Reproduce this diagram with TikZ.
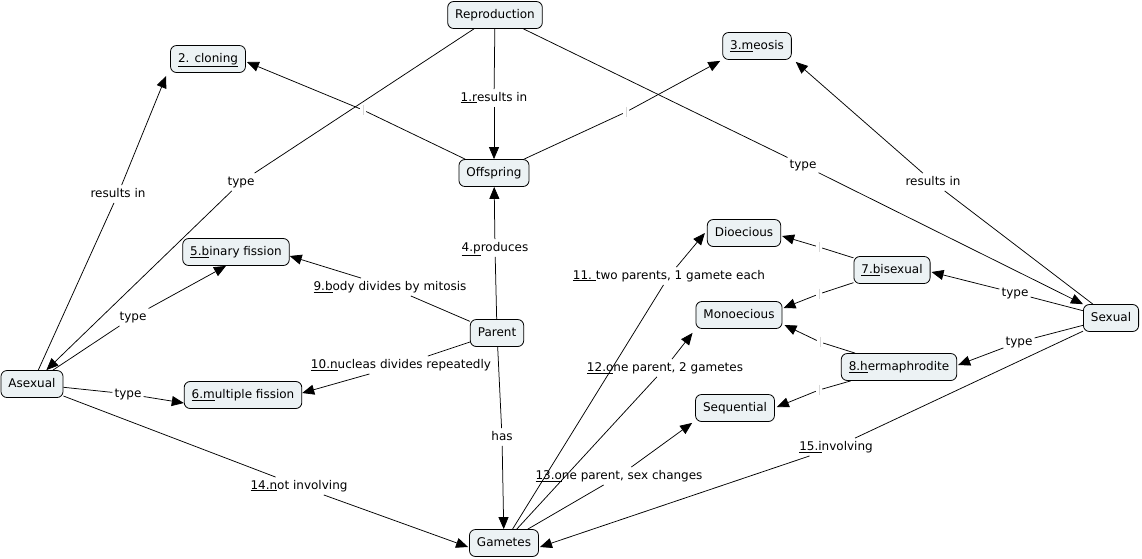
\documentclass[tikz,border=0pt]{standalone}
\usepackage{fontspec}
\setmainfont{DejaVu Sans}
\usetikzlibrary{arrows.meta,calc}
\definecolor{cfill}{RGB}{236,242,244}
\definecolor{tick}{RGB}{215,215,215}
\newcommand{\ulx}[1]{\underline{#1}}
\begin{document}
\begin{tikzpicture}[x=1pt,y=-1pt,
  font=\fontsize{12}{14}\selectfont,
  concept/.style={draw=black,line width=0.8pt,fill=cfill,rounded corners=6pt,
    inner xsep=7.5pt,inner ysep=0pt,minimum height=27pt,text height=9pt,text depth=2.5pt},
  lab/.style={inner xsep=2pt,inner ysep=3pt,text height=9pt,text depth=2.5pt},
  elab/.style={inner sep=0pt,minimum width=6pt,minimum height=10pt},
  conn/.style={draw=black,line width=0.75pt},
  arr/.style={conn,-{Triangle[length=12pt,width=10pt]}}]
\useasboundingbox (0,0) rectangle (1142,558);
% concepts
\node[concept] (rep) at (495,15) {Reproduction};
\node[concept] (clo) at (208,59) {\ulx{2. cloning}};
\node[concept] (meo) at (757,46) {\ulx{3.m}eosis};
\node[concept] (off) at (494,173) {Offspring};
\node[concept] (dio) at (744,233) {Dioecious};
\node[concept] (bin) at (236,252) {\ulx{5.b}inary fission};
\node[concept] (bis) at (892,270) {\ulx{7.b}isexual};
\node[concept] (mon) at (739,315) {Monoecious};
\node[concept] (sex) at (1111,318) {Sexual};
\node[concept] (par) at (497,333) {Parent};
\node[concept] (her) at (899,367) {\ulx{8.h}ermaphrodite};
\node[concept] (ase) at (32,384) {Asexual};
\node[concept] (mul) at (243,395) {\ulx{6.m}ultiple fission};
\node[concept] (seq) at (735,408) {Sequential};
\node[concept] (gam) at (504,543) {Gametes};
% linking phrases
\node[lab] (l1) at (494,98) {\ulx{1.r}esults in};
\node[lab] (lt1) at (241,182) {type};
\node[lab] (lt2) at (803,165) {type};
\node[lab] (lr1) at (118,194) {results in};
\node[lab] (lr2) at (933,182) {results in};
\node[lab] (l4) at (495,248) {\ulx{4.p}roduces};
\node[lab] (l9) at (390,287) {\ulx{9.b}ody divides by mitosis};
\node[lab] (l10) at (401,365) {\ulx{10.n}ucleas divides repeatedly};
\node[lab] (lt3) at (133,317) {type};
\node[lab] (lt4) at (128,394) {type};
\node[lab] (lhas) at (502,437) {has};
\node[lab] (l14) at (299,486) {\ulx{14.n}ot involving};
\node[lab] (l13) at (619,476) {\ulx{13.o}ne parent, sex changes};
\node[lab] (l15) at (836,447) {\ulx{15.i}nvolving};
\node[lab] (l11) at (669,276) {\ulx{11.\ }two parents, 1 gamete each};
\node[lab] (l12) at (665,368) {\ulx{12.o}ne parent, 2 gametes};
\node[lab] (lt5) at (1015,293) {type};
\node[lab] (lt6) at (1019,342) {type};
% empty linking phrases
\node[elab] (e1) at (363,110) {};
\node[elab] (e2) at (626,112) {};
\node[elab] (e3) at (819,247) {};
\node[elab] (e4) at (819,294) {};
\node[elab] (e5) at (820,342) {};
\node[elab] (e6) at (819,390) {};
\foreach \e in {e1,e2,e3,e4,e5,e6}
  \draw[tick,line width=0.6pt] (\e.north) -- (\e.south);
% connectors
\draw[conn] (rep) -- (l1); \draw[arr] (l1) -- (off);
\draw[conn] (rep) -- (lt1); \draw[arr] (lt1) -- (ase);
\draw[conn] (rep) -- (lt2); \draw[arr] (lt2) -- (sex);
\draw[conn] (off) -- (e1); \draw[arr] (e1) -- ($(clo.east)+(1,3)$);
\draw[conn] (off) -- (e2); \draw[arr] (e2) -- ($(meo.south west)+(-2,1)$);
\draw[conn] (ase) -- (lr1); \draw[arr] (lr1) -- ($(clo.south west)+(-4,3)$);
\draw[conn] (sex) -- (lr2); \draw[arr] (lr2) -- ($(meo.south east)+(4,2)$);
\draw[conn] (par) -- (l4); \draw[arr] (l4) -- (off);
\draw[conn] (par) -- (l9); \draw[arr] (l9) -- ($(bin.east)+(0,4)$);
\draw[conn] (par) -- (l10); \draw[arr] (l10) -- ($(mul.east)+(0,-2)$);
\draw[conn] (par) -- (lhas); \draw[arr] (lhas) -- (gam);
\draw[conn] (ase) -- (lt3); \draw[arr] (lt3) -- ($(bin.south)+(-10,0)$);
\draw[conn] (ase) -- (lt4); \draw[arr] (lt4) -- ($(mul.west)+(0,8)$);
\draw[conn] (ase) -- (l14); \draw[arr] (l14) -- ($(gam.west)+(-1,4)$);
\draw[conn] (sex) -- (lt5); \draw[arr] (lt5) -- ($(bis.east)+(1,2)$);
\draw[conn] (sex) -- (lt6); \draw[arr] (lt6) -- ($(her.east)+(1,-2)$);
\draw[conn] (sex) -- (l15); \draw[arr] (l15) -- ($(gam.east)+(1,4)$);
\draw[conn] (gam) -- (l11); \draw[arr] (l11) -- ($(dio.west)+(-2,0)$);
\draw[conn] (gam) -- (l12); \draw[arr] (l12) -- ($(mon.south west)+(-3,4)$);
\draw[conn] (gam) -- (l13); \draw[arr] (l13) -- ($(seq.south west)+(-3,1)$);
\draw[conn] (bis) -- (e3); \draw[arr] (e3) -- ($(dio.east)+(1,3)$);
\draw[conn] (bis) -- (e4); \draw[arr] (e4) -- ($(mon.east)+(1,-7)$);
\draw[conn] (her) -- (e5); \draw[arr] (e5) -- ($(mon.east)+(2,10)$);
\draw[conn] (her) -- (e6); \draw[arr] (e6) -- ($(seq.east)+(2,-1)$);
\end{tikzpicture}
\end{document}
